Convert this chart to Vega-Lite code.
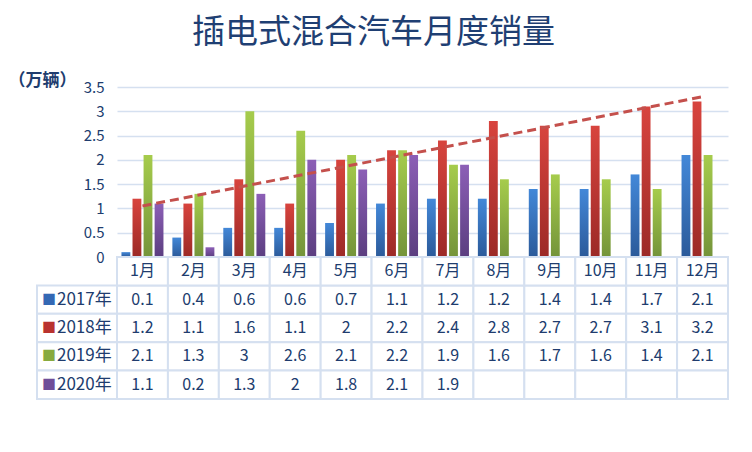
{
  "$schema": "https://vega.github.io/schema/vega-lite/v6.json",
  "background": "white",
  "padding": {"left": 8, "top": 17, "right": 24, "bottom": 55},
  "title": {
    "text": "插电式混合汽车月度销量",
    "fontSize": 33,
    "fontWeight": "normal",
    "color": "#1f3f73",
    "anchor": "middle",
    "offset": 21,
    "dx": 5
  },
  "datasets": {
    "sales": [
      {"series": "2017年", "month": "1月", "value": 0.1},
      {"series": "2017年", "month": "2月", "value": 0.4},
      {"series": "2017年", "month": "3月", "value": 0.6},
      {"series": "2017年", "month": "4月", "value": 0.6},
      {"series": "2017年", "month": "5月", "value": 0.7},
      {"series": "2017年", "month": "6月", "value": 1.1},
      {"series": "2017年", "month": "7月", "value": 1.2},
      {"series": "2017年", "month": "8月", "value": 1.2},
      {"series": "2017年", "month": "9月", "value": 1.4},
      {"series": "2017年", "month": "10月", "value": 1.4},
      {"series": "2017年", "month": "11月", "value": 1.7},
      {"series": "2017年", "month": "12月", "value": 2.1},
      {"series": "2018年", "month": "1月", "value": 1.2},
      {"series": "2018年", "month": "2月", "value": 1.1},
      {"series": "2018年", "month": "3月", "value": 1.6},
      {"series": "2018年", "month": "4月", "value": 1.1},
      {"series": "2018年", "month": "5月", "value": 2},
      {"series": "2018年", "month": "6月", "value": 2.2},
      {"series": "2018年", "month": "7月", "value": 2.4},
      {"series": "2018年", "month": "8月", "value": 2.8},
      {"series": "2018年", "month": "9月", "value": 2.7},
      {"series": "2018年", "month": "10月", "value": 2.7},
      {"series": "2018年", "month": "11月", "value": 3.1},
      {"series": "2018年", "month": "12月", "value": 3.2},
      {"series": "2019年", "month": "1月", "value": 2.1},
      {"series": "2019年", "month": "2月", "value": 1.3},
      {"series": "2019年", "month": "3月", "value": 3},
      {"series": "2019年", "month": "4月", "value": 2.6},
      {"series": "2019年", "month": "5月", "value": 2.1},
      {"series": "2019年", "month": "6月", "value": 2.2},
      {"series": "2019年", "month": "7月", "value": 1.9},
      {"series": "2019年", "month": "8月", "value": 1.6},
      {"series": "2019年", "month": "9月", "value": 1.7},
      {"series": "2019年", "month": "10月", "value": 1.6},
      {"series": "2019年", "month": "11月", "value": 1.4},
      {"series": "2019年", "month": "12月", "value": 2.1},
      {"series": "2020年", "month": "1月", "value": 1.1},
      {"series": "2020年", "month": "2月", "value": 0.2},
      {"series": "2020年", "month": "3月", "value": 1.3},
      {"series": "2020年", "month": "4月", "value": 2},
      {"series": "2020年", "month": "5月", "value": 1.8},
      {"series": "2020年", "month": "6月", "value": 2.1},
      {"series": "2020年", "month": "7月", "value": 1.9},
      {"series": "2020年", "month": "8月", "value": null},
      {"series": "2020年", "month": "9月", "value": null},
      {"series": "2020年", "month": "10月", "value": null},
      {"series": "2020年", "month": "11月", "value": null},
      {"series": "2020年", "month": "12月", "value": null}
    ],
    "trend": [
      {"month": "1月", "value": 1.05},
      {"month": "12月", "value": 3.3}
    ],
    "blank": []
  },
  "columns": 2,
  "spacing": 0,
  "bounds": "flush",
  "concat": [
    {
      "width": 80,
      "height": 170,
      "data": {"name": "blank"},
      "mark": "point",
      "encoding": {}
    },
    {
      "width": 611,
      "height": 170,
      "data": {"name": "sales"},
      "encoding": {
        "x": {
          "field": "month",
          "type": "nominal",
          "scale": {
            "domain": ["1月", "2月", "3月", "4月", "5月", "6月", "7月", "8月", "9月", "10月", "11月", "12月"],
            "paddingInner": 0.175,
            "paddingOuter": 0.0875
          },
          "axis": null
        },
        "y": {
          "field": "value",
          "type": "quantitative",
          "scale": {"domain": [0, 3.5], "nice": false},
          "axis": {
            "values": [0, 0.5, 1, 1.5, 2, 2.5, 3, 3.5],
            "format": "~g",
            "domain": false,
            "ticks": false,
            "grid": true,
            "gridColor": "#d5e0f0",
            "gridWidth": 1.5,
            "labelFontSize": 15,
            "labelColor": "#203c6e",
            "labelPadding": 13,
            "title": "（万辆）",
            "titleAngle": 0,
            "titleAlign": "left",
            "titleBaseline": "middle",
            "titleX": -109,
            "titleY": -7,
            "titleFontSize": 17,
            "titleFontWeight": "bold",
            "titleColor": "#203c6e"
          }
        }
      },
      "layer": [
        {
          "transform": [{"filter": "datum.series === '2017年' && isValid(datum.value)"}],
          "mark": {
            "type": "bar",
            "color": {
              "gradient": "linear", "x1": 0, "y1": 0, "x2": 0, "y2": 1,
              "stops": [{"offset": 0, "color": "#4388d8"}, {"offset": 1, "color": "#2b5a9a"}]
            }
          },
          "encoding": {
            "xOffset": {
              "field": "series",
              "type": "nominal",
              "scale": {"domain": ["2017年", "2018年", "2019年", "2020年"], "paddingInner": 0.2}
            }
          }
        },
        {
          "transform": [{"filter": "datum.series === '2018年' && isValid(datum.value)"}],
          "mark": {
            "type": "bar",
            "color": {
              "gradient": "linear", "x1": 0, "y1": 0, "x2": 0, "y2": 1,
              "stops": [{"offset": 0, "color": "#d8443e"}, {"offset": 1, "color": "#9c2a27"}]
            }
          },
          "encoding": {"xOffset": {"field": "series", "type": "nominal"}}
        },
        {
          "transform": [{"filter": "datum.series === '2019年' && isValid(datum.value)"}],
          "mark": {
            "type": "bar",
            "color": {
              "gradient": "linear", "x1": 0, "y1": 0, "x2": 0, "y2": 1,
              "stops": [{"offset": 0, "color": "#a6cc4c"}, {"offset": 1, "color": "#74943a"}]
            }
          },
          "encoding": {"xOffset": {"field": "series", "type": "nominal"}}
        },
        {
          "transform": [{"filter": "datum.series === '2020年' && isValid(datum.value)"}],
          "mark": {
            "type": "bar",
            "color": {
              "gradient": "linear", "x1": 0, "y1": 0, "x2": 0, "y2": 1,
              "stops": [{"offset": 0, "color": "#8c5fb6"}, {"offset": 1, "color": "#5b3e80"}]
            }
          },
          "encoding": {"xOffset": {"field": "series", "type": "nominal"}}
        },
        {
          "data": {"name": "trend"},
          "mark": {"type": "line", "color": "#c4504c", "strokeDash": [9, 5], "strokeWidth": 3},
          "encoding": {}
        }
      ]
    },
    {
      "width": 80,
      "height": 142,
      "data": {"name": "sales"},
      "transform": [{"filter": "datum.month === '1月'"}],
      "encoding": {
        "y": {
          "field": "series",
          "type": "nominal",
          "scale": {"domain": ["月份", "2017年", "2018年", "2019年", "2020年"], "paddingInner": 0, "paddingOuter": 0},
          "axis": null
        }
      },
      "layer": [
        {"mark": {"type": "rect", "fill": "white", "stroke": "#d5e0f0", "strokeWidth": 2}},
        {
          "mark": {"type": "text", "text": "■", "dx": -28, "fontSize": 14},
          "encoding": {
            "color": {
              "field": "series",
              "type": "nominal",
              "scale": {
                "domain": ["2017年", "2018年", "2019年", "2020年"],
                "range": ["#3468b4", "#b9322f", "#88aa3e", "#6f4d98"]
              },
              "legend": null
            }
          }
        },
        {
          "mark": {"type": "text", "align": "left", "dx": -20, "fontSize": 17, "color": "#203c6e"},
          "encoding": {"text": {"field": "series"}}
        }
      ]
    },
    {
      "width": 611,
      "height": 142,
      "data": {"name": "sales"},
      "encoding": {
        "x": {
          "field": "month",
          "type": "nominal",
          "scale": {
            "domain": ["1月", "2月", "3月", "4月", "5月", "6月", "7月", "8月", "9月", "10月", "11月", "12月"],
            "paddingInner": 0,
            "paddingOuter": 0
          },
          "axis": null
        },
        "y": {
          "field": "series",
          "type": "nominal",
          "scale": {"domain": ["月份", "2017年", "2018年", "2019年", "2020年"], "paddingInner": 0, "paddingOuter": 0},
          "axis": null
        }
      },
      "layer": [
        {"mark": {"type": "rect", "fill": "white", "stroke": "#d5e0f0", "strokeWidth": 2}},
        {
          "transform": [{"filter": "datum.series === '2017年'"}],
          "mark": {"type": "rect", "fill": "white", "stroke": "#d5e0f0", "strokeWidth": 2},
          "encoding": {"y": {"datum": "月份"}}
        },
        {
          "transform": [{"filter": "isValid(datum.value)"}],
          "mark": {"type": "text", "fontSize": 16, "color": "#203c6e"},
          "encoding": {"text": {"field": "value", "type": "quantitative", "format": "~g"}}
        },
        {
          "transform": [{"filter": "datum.series === '2017年'"}],
          "mark": {"type": "text", "fontSize": 16, "color": "#203c6e"},
          "encoding": {"y": {"datum": "月份"}, "text": {"field": "month"}}
        }
      ]
    }
  ],
  "config": {
    "font": "Noto Sans CJK SC",
    "view": {"stroke": null}
  }
}
